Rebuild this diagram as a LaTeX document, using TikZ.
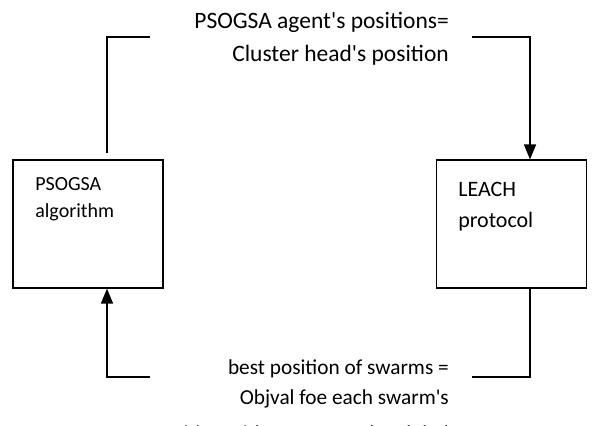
\documentclass[tikz,border=0pt]{standalone}
\usepackage{fontspec}
\setmainfont{Carlito}
\usetikzlibrary{arrows.meta, positioning, calc}
\tikzset{
	blk/.style     ={rectangle, draw=black, line width=1.2pt, minimum width=150pt, minimum height=128pt, inner sep=0pt},
	blktext/.style ={anchor=base west, align=left, inner sep=0pt},
	note/.style    ={anchor=base east, align=right, inner sep=0pt},
	link/.style    ={line width=1.6pt},
	sig/.style     ={-{Triangle[length=15pt, width=12pt]}, line width=1.6pt},
}
\newcommand{\apos}{\textquotesingle}
\begin{document}
\begin{tikzpicture}[x=1pt, y=-1pt]
	\useasboundingbox (0,0) rectangle (612,425);
	\node[blk] (algo) at (88,224) {};
	\node[blk] (leach) at (511.5,224) {};
	% base anchor = baseline of the last line
	\node[blktext, font=\fontsize{20}{27.3}\selectfont] (algotxt) at ($(algo.north west)+(22.7,58)$) {PSOGSA\\algorithm};
	\node[blktext, font=\fontsize{22}{31.6}\selectfont] (leachtxt) at ($(leach.north west)+(22.2,68.3)$) {LEACH\\protocol};
	\node[note, font=\fontsize{23.5}{33}\selectfont] (toplab) at (449,61.5) {PSOGSA agent\apos s positions=\\Cluster head\apos s position};
	\node[note, font=\fontsize{21.3}{30}\selectfont] (botlab) at (449,440.5) {best position of swarms =\\Objval foe each swarm\apos s\\[6.5pt]position with respect to the global};
	% loose ends of the feedback lines
	\coordinate (topl) at (150,37);
	\coordinate (topr) at (472,37);
	\coordinate (botl) at (150,377);
	\coordinate (botr) at (472,377);
	\draw[link] ($(algo.north)+(19,-6.7)$) |- (topl);
	\draw[sig] (topr) -| ($(leach.north)+(18.5,0)$);
	\draw[link] ($(leach.south)+(18.5,0)$) |- (botr);
	\draw[sig] (botl) -| ($(algo.south)+(19,0)$);
\end{tikzpicture}
\end{document}
